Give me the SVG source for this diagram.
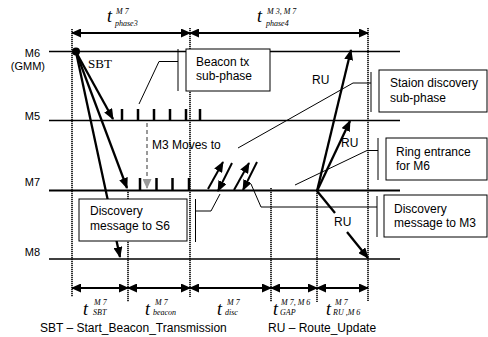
<svg xmlns="http://www.w3.org/2000/svg" width="488" height="337" viewBox="0 0 488 337">
<defs>
<marker id="ah" markerUnits="userSpaceOnUse" markerWidth="10" markerHeight="9" refX="9" refY="4.5" orient="auto-start-reverse"><path d="M0,0 L10,4.5 L0,9 z" fill="#000"/></marker>
<marker id="ahb" markerUnits="userSpaceOnUse" markerWidth="11" markerHeight="9" refX="10" refY="4.5" orient="auto"><path d="M0,0 L11,4.5 L0,9 z" fill="#000"/></marker>
<marker id="ahg" markerUnits="userSpaceOnUse" markerWidth="10" markerHeight="9" refX="9" refY="4.5" orient="auto"><path d="M0,0 L10,4.5 L0,9 z" fill="#999"/></marker>
<style>
.ln{stroke:#000;stroke-width:1.5;fill:none}
.dot{stroke:#000;stroke-width:1.6;stroke-dasharray:1.2 0.8;fill:none}
.dim{stroke:#000;stroke-width:2;fill:none;marker-start:url(#ah);marker-end:url(#ah)}
.ar{stroke:#000;stroke-width:2.3;fill:none;marker-end:url(#ahb)}
.tick{stroke:#000;stroke-width:2.5}
.thin{stroke:#000;stroke-width:1;fill:none}
.box{fill:#fff;stroke:#000;stroke-width:1}
.s{font-family:"Liberation Sans",Arial,sans-serif;font-size:12px;fill:#000}
.m{font-family:"Liberation Sans",Arial,sans-serif;font-size:11px;fill:#000}
.ti{font-family:"Liberation Serif","Times New Roman",serif;font-style:italic;font-size:18px;fill:#000}
.tsm{font-family:"Liberation Serif","Times New Roman",serif;font-style:italic;font-size:8px;fill:#000}
.sbt{font-family:"Liberation Serif","Times New Roman",serif;font-size:13px;fill:#000}
</style>
</defs>

<g id="lanes">
<line class="ln" x1="49" y1="51.5" x2="400" y2="51.5"/>
<line class="ln" x1="49" y1="120.5" x2="400" y2="120.5"/>
<line class="ln" x1="49" y1="190.5" x2="400" y2="190.5" style="stroke-width:2"/>
<line class="ln" x1="49" y1="259" x2="400" y2="259"/>
<text class="m" x="40" y="56.5" text-anchor="end">M6</text>
<text class="m" x="45" y="70" text-anchor="end">(GMM)</text>
<text class="m" x="40" y="119.5" text-anchor="end">M5</text>
<text class="m" x="40" y="186" text-anchor="end">M7</text>
<text class="m" x="40" y="256" text-anchor="end">M8</text>
</g>

<g id="timelines">
<line class="dot" x1="72" y1="29" x2="72" y2="297"/>
<line class="dot" x1="190" y1="28" x2="190" y2="297"/>
<line class="dot" x1="368" y1="28" x2="368" y2="301"/>
<line class="dot" x1="128" y1="190" x2="128" y2="302"/>
<line class="dot" x1="271" y1="188" x2="271" y2="302"/>
<line class="dot" x1="317" y1="191" x2="317" y2="302"/>
</g>

<g id="connectors">
<line class="dim" x1="72" y1="33" x2="190" y2="33"/>
<line class="dim" x1="190" y1="33" x2="368" y2="33"/>
<line class="dim" x1="72" y1="288" x2="128" y2="288"/>
<line class="dim" x1="128" y1="288" x2="190" y2="288"/>
<line class="dim" x1="190" y1="288" x2="271" y2="288"/>
<line class="dim" x1="271" y1="288" x2="317" y2="288"/>
<line class="dim" x1="317" y1="288" x2="368" y2="288"/>

<circle cx="76" cy="51.5" r="4" fill="#000"/>
<line class="ar" x1="76" y1="52" x2="113" y2="119"/>
<line class="ar" x1="76" y1="52" x2="127" y2="188"/>
<line class="ar" x1="76" y1="52" x2="120" y2="257"/>

<g class="tick">
<line x1="122" y1="109" x2="122" y2="120"/>
<line x1="138" y1="109" x2="138" y2="120"/>
<line x1="154" y1="109" x2="154" y2="120"/>
<line x1="170" y1="109" x2="170" y2="120"/>
<line x1="186" y1="109" x2="186" y2="120"/>
<line x1="200" y1="109" x2="200" y2="120"/>
<line x1="140" y1="178" x2="140" y2="190"/>
<line x1="156.5" y1="178" x2="156.5" y2="190"/>
<line x1="172.5" y1="178" x2="172.5" y2="190"/>
<line x1="189" y1="178" x2="189" y2="190"/>
</g>

<line x1="147" y1="123" x2="147" y2="188" stroke="#999" stroke-width="2" stroke-dasharray="4 3" marker-end="url(#ahg)"/>

<line class="ar" style="stroke-width:2" x1="208" y1="189" x2="223" y2="162"/>
<line class="ar" style="stroke-width:2" x1="232" y1="163" x2="218" y2="191"/>
<line class="ar" style="stroke-width:2" x1="234" y1="190" x2="249" y2="163"/>
<line class="ar" style="stroke-width:2" x1="257" y1="162" x2="243" y2="190"/>

<line class="ar" x1="317" y1="191" x2="351" y2="50"/>
<line class="ar" x1="317" y1="191" x2="350" y2="121"/>
<line x1="317" y1="191" x2="335" y2="213" stroke="#000" stroke-width="2.3"/>
<line class="ar" x1="347" y1="232" x2="368" y2="258"/>

<line class="thin" x1="178" y1="49" x2="178" y2="91"/>
<polyline class="thin" points="178,61.5 159,61.5 139,104"/>
<line class="thin" x1="371" y1="72" x2="371" y2="112"/>
<polyline class="thin" points="371,83 353,83 238,148"/>
<line class="thin" x1="378" y1="138" x2="378" y2="180"/>
<polyline class="thin" points="378,150.5 367,150.5 295,185"/>
<line class="thin" x1="377" y1="196" x2="377" y2="237"/>
<polyline class="thin" points="377,207 261,207 251,184"/>
<line class="thin" x1="195.5" y1="199" x2="195.5" y2="242"/>
<polyline class="thin" points="195.5,211 211,211 220,194"/>
</g>

<g id="beacon-box">
<rect class="box" x="186" y="49" width="84" height="42"/>
<text class="s" x="196" y="66">Beacon tx</text>
<text class="s" x="196" y="80">sub-phase</text>
</g>
<g id="station-box">
<rect class="box" x="379" y="70" width="108" height="42"/>
<text class="s" x="390" y="87">Staion discovery</text>
<text class="s" x="390" y="102">sub-phase</text>
</g>
<g id="ring-box">
<rect class="box" x="386" y="138" width="101" height="42"/>
<text class="s" x="396" y="156">Ring entrance</text>
<text class="s" x="396" y="170">for M6</text>
</g>
<g id="disc-m3-box">
<rect class="box" x="384" y="195" width="103" height="42"/>
<text class="s" x="394" y="213">Discovery</text>
<text class="s" x="394" y="227">message to M3</text>
</g>
<g id="disc-s6-box">
<rect class="box" x="79" y="199" width="108" height="42"/>
<text class="s" x="90" y="215">Discovery</text>
<text class="s" x="90" y="230">message to S6</text>
</g>

<g id="labels">
<text class="sbt" x="88" y="68">SBT</text>
<text class="s" x="152" y="149">M3 Moves to</text>
<text class="s" x="312" y="84">RU</text>
<text class="s" x="341" y="147">RU</text>
<text class="s" x="334" y="226">RU</text>

<text class="ti" x="107" y="22">t</text>
<text class="tsm" x="116" y="14">M 7</text>
<text class="tsm" x="115" y="26">phase3</text>
<text class="ti" x="257" y="22">t</text>
<text class="tsm" x="267" y="14">M 3, M 7</text>
<text class="tsm" x="266" y="26">phase4</text>

<text class="ti" x="83" y="315">t</text>
<text class="tsm" x="94" y="305">M 7</text>
<text class="tsm" x="93" y="315">SBT</text>
<text class="ti" x="145" y="315">t</text>
<text class="tsm" x="155" y="305">M 7</text>
<text class="tsm" x="153" y="315">beacon</text>
<text class="ti" x="217" y="315">t</text>
<text class="tsm" x="227" y="305">M 7</text>
<text class="tsm" x="225" y="315">disc</text>
<text class="ti" x="273" y="315">t</text>
<text class="tsm" x="281" y="305">M 7, M 6</text>
<text class="tsm" x="280" y="315">GAP</text>
<text class="ti" x="326" y="315">t</text>
<text class="tsm" x="335" y="305">M 7</text>
<text class="tsm" x="333" y="315">RU ,M 6</text>

<text class="s" x="40" y="332">SBT – Start_Beacon_Transmission</text>
<text class="s" x="268" y="332">RU – Route_Update</text>
</g>
</svg>
